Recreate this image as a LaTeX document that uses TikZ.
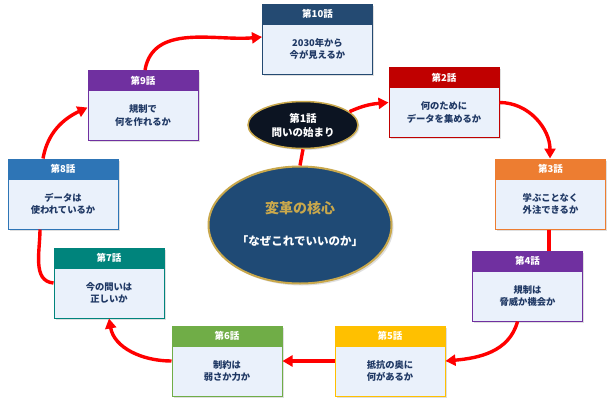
\documentclass[tikz,border=0pt]{standalone}
\usepackage{fontspec}
\setmainfont{Noto Sans CJK JP}
\usetikzlibrary{arrows.meta,shapes.geometric,shadows}
\definecolor{bodyfill}{HTML}{EAF1FB}
\definecolor{bodytext}{HTML}{1F3864}
\definecolor{arrred}{HTML}{FF0000}
\definecolor{cnavy}{HTML}{244A72}
\definecolor{cred}{HTML}{C00000}
\definecolor{corange}{HTML}{ED7D31}
\definecolor{cpurple}{HTML}{7030A0}
\definecolor{cyellow}{HTML}{FFC000}
\definecolor{cgreen}{HTML}{70AD47}
\definecolor{cteal}{HTML}{00847C}
\definecolor{cblue}{HTML}{2E75B6}
\definecolor{gold}{HTML}{C9A84C}
\definecolor{bignavy}{HTML}{1F4A75}
\definecolor{darkfill}{HTML}{0C1422}
\newcommand\epi[6]{%
  \node[epbox,draw=#4] (#1) at (#2,#3) {};
  \fill[#4] (#1.north west) rectangle ([yshift=-21pt]#1.north east);
  \node[headtext] (#1h) at ([yshift=-10.5pt]#1.north) {#5};
  \node[bodytxt] (#1t) at ([yshift=-10pt]#1.center) {#6};
}
\begin{document}
\begin{tikzpicture}[x=1pt,y=-1pt,
  epbox/.style={fill=bodyfill, line width=1pt, minimum width=110pt, minimum height=70pt, inner sep=0pt,
    drop shadow={opacity=0.25,shadow xshift=1.5pt,shadow yshift=-1.5pt}},
  headtext/.style={text=white, font=\bfseries\fontsize{9.5}{11}\selectfont, inner sep=0pt},
  bodytxt/.style={text=bodytext, font=\bfseries\fontsize{9.3}{12.5}\selectfont, align=center, inner sep=0pt},
  arr/.style={draw=arrred, line width=3.4pt, -{Triangle[length=10pt,width=11pt]}},
  conn/.style={draw=arrred, line width=3.4pt}]
\useasboundingbox (0,0) rectangle (610,405);
\fill[white] (0,0) rectangle (610,405);

\epi{b10}{317.5}{39}{cnavy}{第10話}{2030年から\\今が見えるか}
\epi{b2}{444}{102.5}{cred}{第2話}{何のために\\データを集めるか}
\epi{b3}{550.5}{194}{corange}{第3話}{学ぶことなく\\外注できるか}
\epi{b4}{527.5}{286}{cpurple}{第4話}{規制は\\脅威か機会か}
\epi{b5}{390}{361}{cyellow}{第5話}{抵抗の奥に\\何があるか}
\epi{b6}{227}{361}{cgreen}{第6話}{制約は\\弱さか力か}
\epi{b7}{109}{283}{cteal}{第7話}{今の問いは\\正しいか}
\epi{b8}{63}{194}{cblue}{第8話}{データは\\使われているか}
\epi{b9}{143}{105.5}{cpurple}{第9話}{規制で\\何を作れるか}

\node[ellipse, fill=darkfill, draw=gold, line width=1.5pt, minimum width=110pt, minimum height=47pt, inner sep=0pt,
  text=white, font=\bfseries\fontsize{10.5}{14}\selectfont, align=center,
  drop shadow={opacity=0.25,shadow xshift=1.5pt,shadow yshift=-1.5pt}] (e1) at (303,125) {第1話\\問いの始まり};

\node[ellipse, fill=bignavy, draw=gold, line width=2pt, minimum width=183pt, minimum height=117pt, inner sep=0pt,
  drop shadow={opacity=0.25,shadow xshift=2pt,shadow yshift=-2pt}] (c) at (300,225) {};
\node[text=gold, font=\bfseries\fontsize{14}{16}\selectfont] (ct1) at (300,208) {変革の核心};
\node[text=white, font=\bfseries\fontsize{11.5}{14}\selectfont] (ct2) at (300,241) {「なぜこれでいいのか」};

\draw[conn] (c.north) -- (e1.south);
\draw[arr] (e1.16) to[out=25,in=185] (b2.west);
\draw[arr] (b2.east) to[out=0,in=90] ([xshift=-0.5pt]b3.south |- b3.north);
\draw[conn] ([xshift=-1.5pt]b3.south) -- ([xshift=-1.5pt]b3.south |- b4.north);
\draw[arr] ([xshift=-10pt]b4.south) to[out=-105,in=5] (b5.east);
\draw[arr] (b5.west) -- (b6.east);
\draw[arr] (b6.west) to[out=180,in=-80] (b7.south);
\draw[conn] (b7.west) to[out=175,in=-90] ([xshift=-23pt]b8.south);
\draw[arr] ([xshift=-20pt]b8.north) to[out=80,in=205] ([yshift=-2pt]b9.west);
\draw[arr] ([xshift=2pt]b9.north) to[out=80,in=185] ([yshift=2pt]b10.west);
\end{tikzpicture}
\end{document}
